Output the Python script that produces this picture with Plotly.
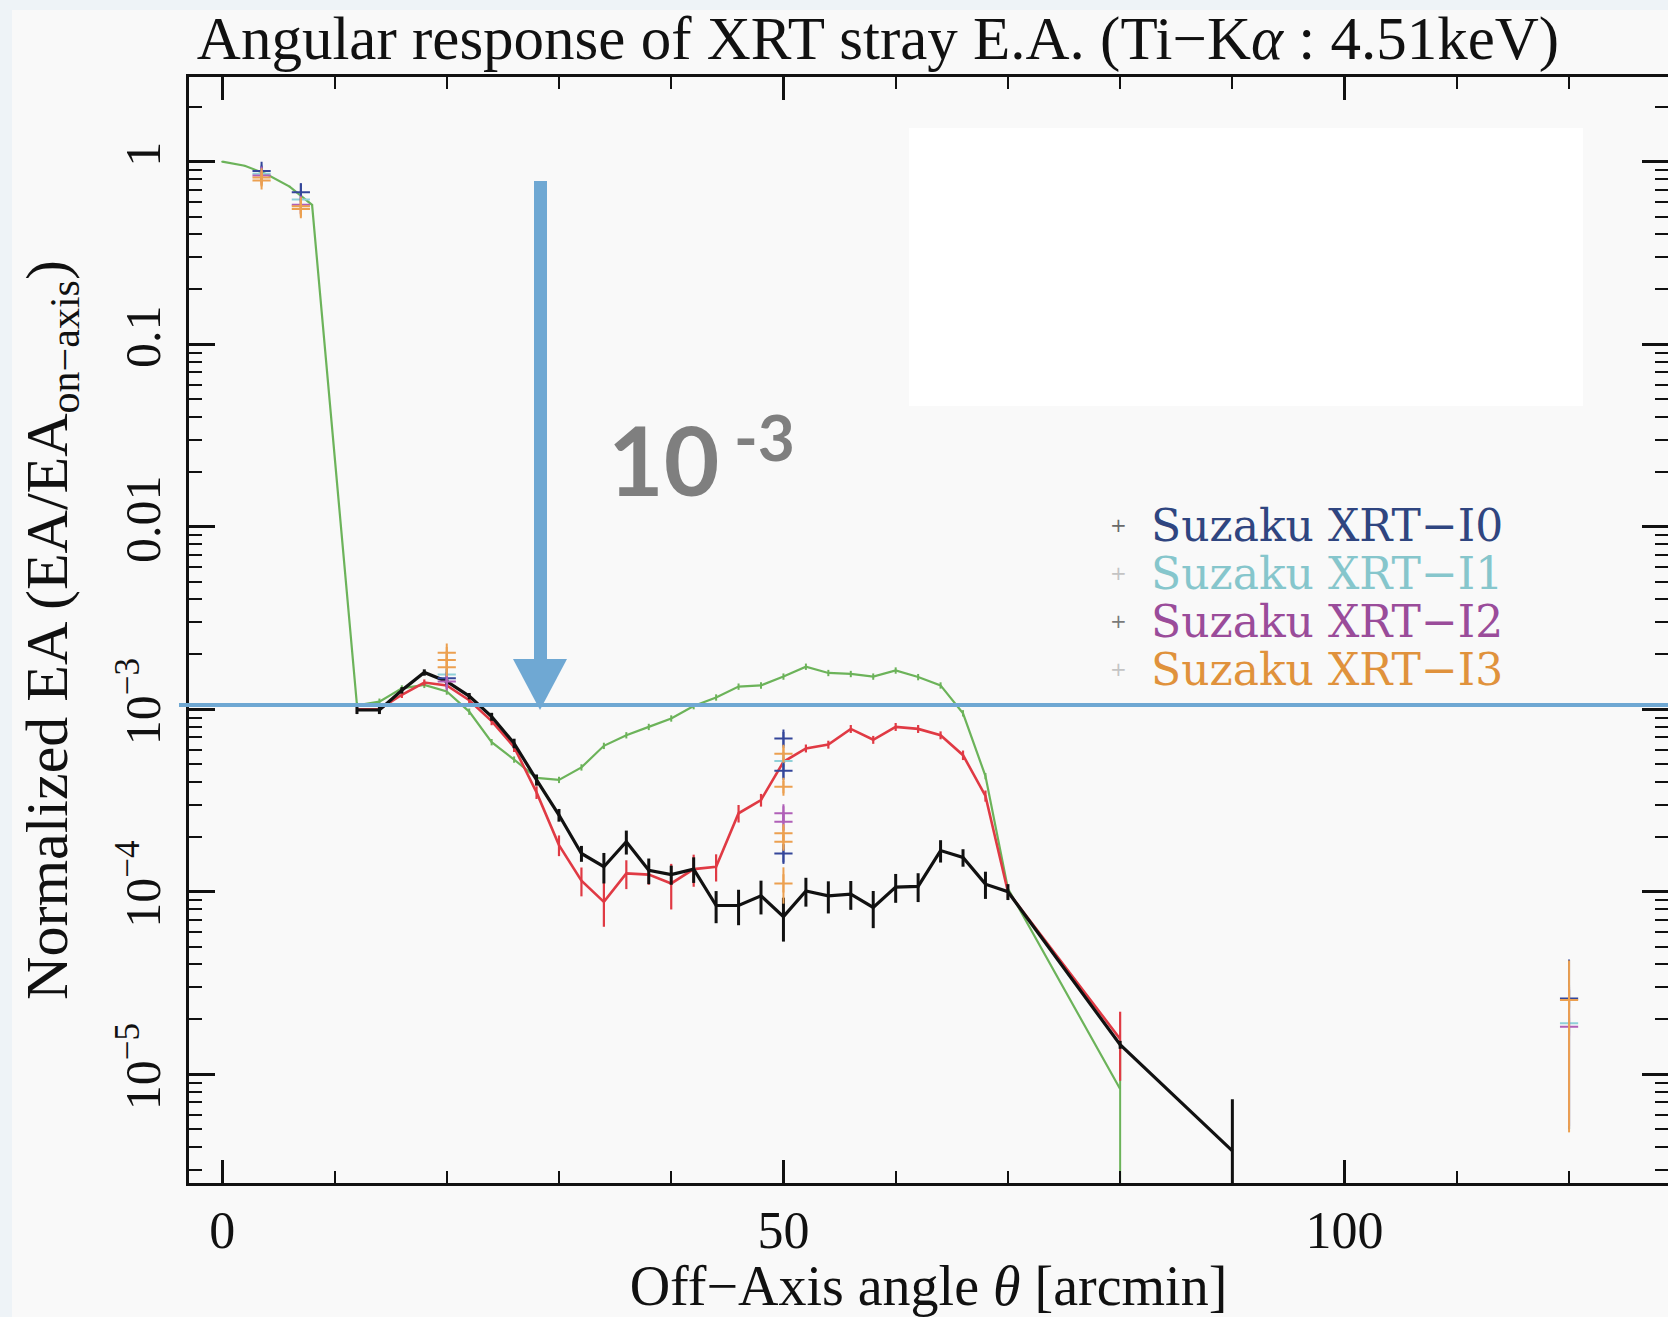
import plotly.graph_objects as go

# ---------------- data ----------------
theta_green = [0, 2, 4, 6, 8,
               12, 14, 16, 18, 20, 22, 24, 26, 28, 30,
               32, 34, 36, 38, 40, 42, 44, 46, 48, 50,
               52, 54, 56, 58, 60, 62, 64, 66, 68, 70,
               80]
green_val = [1.0, 0.95, 0.85, 0.73, 0.58,
             1.05e-3, 1.1e-3, 1.3e-3, 1.36e-3, 1.25e-3, 9.7e-4, 6.6e-4, 5.3e-4, 4.2e-4, 4.1e-4,
             4.8e-4, 6.3e-4, 7.2e-4, 8.0e-4, 8.9e-4, 1.04e-3, 1.16e-3, 1.33e-3, 1.35e-3, 1.51e-3,
             1.71e-3, 1.58e-3, 1.56e-3, 1.51e-3, 1.63e-3, 1.50e-3, 1.35e-3, 9.5e-4, 4.3e-4, 1.04e-4,
             8.3e-6]
green_err_up = [0.01, 0.01, 0.01, 0.01, 0.01,
                0.04, 0.04, 0.04, 0.04, 0.04, 0.04, 0.04, 0.04, 0.04, 0.04,
                0.04, 0.04, 0.04, 0.04, 0.04, 0.04, 0.04, 0.04, 0.04, 0.04,
                0.04, 0.04, 0.04, 0.04, 0.04, 0.04, 0.04, 0.04, 0.04, 0.04,
                0.72]
green_err_dn = [0.01, 0.01, 0.01, 0.01, 0.01,
                0.04, 0.04, 0.04, 0.04, 0.04, 0.04, 0.04, 0.04, 0.04, 0.04,
                0.04, 0.04, 0.04, 0.04, 0.04, 0.04, 0.04, 0.04, 0.04, 0.04,
                0.04, 0.04, 0.04, 0.04, 0.04, 0.04, 0.04, 0.04, 0.04, 0.04,
                1.0]

theta_red = [12, 14, 16, 18, 20, 22, 24, 26, 28, 30,
             32, 34, 36, 38, 40, 42, 44, 46, 48, 50,
             52, 54, 56, 58, 60, 62, 64, 66, 68, 70,
             80]
red_val = [1.0e-3, 1.0e-3, 1.2e-3, 1.4e-3, 1.35e-3, 1.12e-3, 8.6e-4, 6.2e-4, 3.5e-4, 1.8e-4,
           1.15e-4, 8.8e-5, 1.26e-4, 1.24e-4, 1.11e-4, 1.33e-4, 1.37e-4, 2.69e-4, 3.18e-4, 5.15e-4,
           6.1e-4, 6.4e-4, 7.8e-4, 6.8e-4, 8.0e-4, 7.8e-4, 7.2e-4, 5.6e-4, 3.35e-4, 1.0e-4,
           1.56e-5]
red_err = [0.04, 0.04, 0.04, 0.04, 0.04, 0.04, 0.05, 0.06, 0.08, 0.13,
           0.18, 0.27, 0.18, 0.12, 0.28, 0.20, 0.17, 0.11, 0.08, 0.06,
           0.05, 0.05, 0.05, 0.05, 0.05, 0.05, 0.05, 0.06, 0.07, 0.08,
           0.41]

theta_black = [12, 14, 16, 18, 20, 22, 24, 26, 28, 30,
               32, 34, 36, 38, 40, 42, 44, 46, 48, 50,
               52, 54, 56, 58, 60, 62, 64, 66, 68, 70,
               80, 90]
black_val = [9.9e-4, 9.9e-4, 1.27e-3, 1.59e-3, 1.42e-3, 1.18e-3, 9.1e-4, 6.5e-4, 4.1e-4, 2.63e-4,
             1.62e-4, 1.37e-4, 1.88e-4, 1.31e-4, 1.24e-4, 1.33e-4, 8.4e-5, 8.4e-5, 9.5e-5, 7.3e-5,
             1.01e-4, 9.5e-5, 9.7e-5, 8.2e-5, 1.06e-4, 1.07e-4, 1.68e-4, 1.54e-4, 1.10e-4, 1.0e-4,
             1.45e-5, 3.8e-6]
black_err_up = [0.05, 0.05, 0.04, 0.04, 0.04, 0.04, 0.05, 0.06, 0.07, 0.08,
                0.10, 0.19, 0.15, 0.16, 0.12, 0.16, 0.20, 0.22, 0.21, 0.27,
                0.18, 0.20, 0.18, 0.23, 0.18, 0.18, 0.14, 0.11, 0.17, 0.10,
                0.05, 0.92]
black_err_dn = [0.05, 0.05, 0.04, 0.04, 0.04, 0.04, 0.05, 0.06, 0.07, 0.08,
                0.10, 0.19, 0.15, 0.16, 0.12, 0.16, 0.20, 0.22, 0.21, 0.27,
                0.18, 0.20, 0.18, 0.23, 0.18, 0.18, 0.14, 0.11, 0.17, 0.10,
                0.05, 1.0]

# measured points (Suzaku XRT-I0..I3)
i0_theta = [3.5, 7, 20, 50, 50, 50, 120]
i0_val = [0.89, 0.68, 1.48e-3, 6.9e-4, 4.6e-4, 1.62e-4, 2.6e-5]
i0_err_up = [0.06, 0.08, 1.2e-4, 6e-5, 4e-5, 2e-5, 1.65e-5]
i0_err_dn = [0.06, 0.08, 1.2e-4, 6e-5, 4e-5, 2e-5, 2.1e-5]

i1_theta = [3.5, 7, 20, 50, 120]
i1_val = [0.86, 0.62, 1.55e-3, 5.2e-4, 1.9e-5]
i1_err_up = [0.05, 0.06, 1.2e-4, 5e-5, 1.2e-5]
i1_err_dn = [0.05, 0.06, 1.2e-4, 5e-5, 1.4e-5]

i2_theta = [3.5, 7, 20, 50, 50, 120]
i2_val = [0.84, 0.58, 1.42e-3, 2.69e-4, 2.42e-4, 1.82e-5]
i2_err_up = [0.05, 0.06, 1.2e-4, 2.5e-5, 2.5e-5, 1.2e-5]
i2_err_dn = [0.05, 0.06, 1.2e-4, 2.5e-5, 2.5e-5, 1.3e-5]

i3_theta = [3.5, 3.5, 7, 7, 20, 20, 20, 50, 50, 50, 50, 50, 120]
i3_val = [0.82, 0.79, 0.57, 0.55, 2.04e-3, 1.86e-3, 1.70e-3, 5.7e-4, 3.76e-4, 2.09e-4, 1.88e-4, 1.11e-4, 2.55e-5]
i3_err_up = [0.05, 0.05, 0.05, 0.05, 1.5e-4, 1.4e-4, 1.3e-4, 5e-5, 3e-5, 1.8e-5, 1.6e-5, 2.5e-5, 1.65e-5]
i3_err_dn = [0.05, 0.05, 0.05, 0.05, 1.5e-4, 1.4e-4, 1.3e-4, 5e-5, 3e-5, 1.8e-5, 1.6e-5, 2.5e-5, 2.07e-5]

legend_names = ["Suzaku XRT\u2212I0", "Suzaku XRT\u2212I1", "Suzaku XRT\u2212I2", "Suzaku XRT\u2212I3"]
legend_colors = ["#2f4580", "#86c6cc", "#9a4c9a", "#e0923c"]
point_colors = ["#34469a", "#8fd0d8", "#b060b8", "#eca050"]

x_tickvals = [0, 50, 100]
x_ticktext = ["0", "50", "100"]
y_tickvals = [1, 0.1, 0.01, 1e-3, 1e-4, 1e-5]
y_ticktext = ["1", "0.1", "0.01", "10<sup>\u22123</sup>", "10<sup>\u22124</sup>", "10<sup>\u22125</sup>"]

# ---------------- geometry (pixels) ----------------
FW, FH = 1668, 1317
L, R, T, B = 189, 1668, 77, 1183
W, H = R - L, B - T


def px(x):
    return (x - L) / W


def py(y):
    return (B - y) / H


SERIF = "Liberation Serif, Times New Roman, serif"
LEGSERIF = "DejaVu Serif, serif"
BLUE = "#6fa8d3"
XRANGE = [(L - 222.3) / 11.223, (R - 222.3) / 11.223]


def mul(vals, fr):
    return [v * f for v, f in zip(vals, fr)]


fig = go.Figure()

fig.add_trace(go.Scatter(
    x=theta_green, y=green_val, mode="lines", name="green",
    line=dict(color="#6cb35a", width=2.2),
    error_y=dict(type="data", array=mul(green_val, green_err_up),
                 arrayminus=mul(green_val, green_err_dn),
                 color="#6cb35a", thickness=2, width=0),
    showlegend=False))

fig.add_trace(go.Scatter(
    x=theta_red, y=red_val, mode="lines", name="red",
    line=dict(color="#e03a44", width=2.6),
    error_y=dict(type="data", array=mul(red_val, red_err),
                 arrayminus=mul(red_val, red_err),
                 color="#e03a44", thickness=2.2, width=0),
    showlegend=False))

fig.add_trace(go.Scatter(
    x=theta_black, y=black_val, mode="lines", name="black",
    line=dict(color="#111111", width=3.2),
    error_y=dict(type="data", array=mul(black_val, black_err_up),
                 arrayminus=mul(black_val, black_err_dn),
                 color="#111111", thickness=3, width=0),
    showlegend=False))

pts = [(i0_theta, i0_val, i0_err_up, i0_err_dn),
       (i1_theta, i1_val, i1_err_up, i1_err_dn),
       (i2_theta, i2_val, i2_err_up, i2_err_dn),
       (i3_theta, i3_val, i3_err_up, i3_err_dn)]
for k in [1, 0, 2, 3]:
    th, vv, eu, ed = pts[k]
    fig.add_trace(go.Scatter(
        x=th, y=vv, mode="markers", name=legend_names[k],
        marker=dict(symbol="cross-thin", size=13, color=point_colors[k],
                    line=dict(color=point_colors[k], width=2)),
        error_y=dict(type="data", array=eu, arrayminus=ed,
                     color=point_colors[k], thickness=2, width=0),
        showlegend=False))

# invisible helper trace so the top (tick-only) axis is drawn
fig.add_trace(go.Scatter(x=[theta_black[0]], y=[black_val[0]], xaxis="x2", mode="markers",
                         marker=dict(opacity=0), hoverinfo="skip", showlegend=False))

# ---------------- overlays (slide decorations) ----------------
shapes = []
shapes.append(dict(type="rect", xref="paper", yref="paper", x0=px(0), x1=px(FW), y0=py(0), y1=py(10),
                   fillcolor="#eef3f7", line=dict(width=0), layer="below"))
shapes.append(dict(type="rect", xref="paper", yref="paper", x0=px(0), x1=px(12), y0=py(0), y1=py(FH),
                   fillcolor="#eef3f7", line=dict(width=0), layer="below"))
shapes.append(dict(type="rect", xref="paper", yref="paper", x0=px(909), x1=px(1583), y0=py(128), y1=py(406),
                   fillcolor="#ffffff", line=dict(width=0), layer="above"))
shapes.append(dict(type="line", xref="paper", yref="paper", x0=px(179), x1=px(FW), y0=py(705), y1=py(705),
                   line=dict(color=BLUE, width=4), layer="above"))
shapes.append(dict(type="rect", xref="paper", yref="paper", x0=px(534), x1=px(547), y0=py(181), y1=py(662),
                   fillcolor=BLUE, line=dict(width=0), layer="above"))
shapes.append(dict(type="path", xref="paper", yref="paper",
                   path="M %f %f L %f %f L %f %f Z" % (px(513), py(659), px(567), py(659), px(540), py(710)),
                   fillcolor=BLUE, line=dict(width=0), layer="above"))

annotations = []
annotations.append(dict(text="10", xref="paper", yref="paper", x=px(663), y=py(458),
                        xanchor="center", yanchor="middle", showarrow=False,
                        font=dict(family="Lato, Open Sans, sans-serif", size=96, color="#7f7f7f", weight="bold")))
annotations.append(dict(text="-3", xref="paper", yref="paper", x=px(764), y=py(436),
                        xanchor="center", yanchor="middle", showarrow=False,
                        font=dict(family="Lato, Open Sans, sans-serif", size=64, color="#7f7f7f", weight="bold")))

legend_rows = [525, 573, 621, 669]
plus_colors = ["#6a6a6a", "#c4c4c4", "#7a7a7a", "#c4c4c4"]
for name, col, yy, pc in zip(legend_names, legend_colors, legend_rows, plus_colors):
    annotations.append(dict(text=name, xref="paper", yref="paper", x=px(1149), y=py(yy),
                            xanchor="left", yanchor="middle", showarrow=False,
                            font=dict(family=LEGSERIF, size=44, color=col)))
    annotations.append(dict(text="+", xref="paper", yref="paper", x=px(1118), y=py(yy),
                            xanchor="center", yanchor="middle", showarrow=False,
                            font=dict(family="DejaVu Sans, sans-serif", size=20, color=pc)))

fig.update_layout(
    width=FW, height=FH,
    margin=dict(l=L, r=FW - R, t=T, b=FH - B, autoexpand=False),
    paper_bgcolor="#f9f9f9", plot_bgcolor="#f9f9f9",
    title=dict(text="Angular response of XRT stray E.A. (Ti\u2212K<i>\u03b1</i> : 4.51keV)",
               x=px(878), xref="paper", xanchor="center",
               y=1 - 38 / FH, yref="container", yanchor="middle",
               font=dict(family=SERIF, size=61, color="#111111")),
    showlegend=False,
    shapes=shapes, annotations=annotations,
    xaxis=dict(
        range=XRANGE,
        showline=True, linecolor="#111111", linewidth=3, mirror=True,
        ticks="inside", ticklen=23, tickwidth=2.5, tickcolor="#111111",
        tickmode="array", tickvals=x_tickvals, ticktext=x_ticktext,
        minor=dict(ticks="inside", ticklen=12, tickwidth=2, tickcolor="#111111", dtick=10, showgrid=False),
        showgrid=False, zeroline=False,
        tickfont=dict(family=SERIF, size=52, color="#111111"),
        ticklabelstandoff=0,
        title=dict(text="Off\u2212Axis angle <i>\u03b8</i> [arcmin]", standoff=16,
                   font=dict(family=SERIF, size=56, color="#111111")),
    ),
    xaxis2=dict(overlaying="x", side="top", anchor="y", range=XRANGE,
                showline=True, linecolor="#111111", linewidth=3,
                ticks="inside", ticklen=23, tickwidth=2.5, tickcolor="#111111",
                tickmode="array", tickvals=x_tickvals, showticklabels=False,
                minor=dict(ticks="inside", ticklen=12, tickwidth=2, tickcolor="#111111", dtick=10, showgrid=False),
                showgrid=False, zeroline=False),
)

minor_y = [m * 10.0 ** e for e in range(-6, 1) for m in range(2, 10)]
fig.update_yaxes(
    type="log",
    range=[-(B - 161.7) / 182.5, (161.7 - T) / 182.5],
    showline=True, linecolor="#111111", linewidth=3, mirror="ticks",
    ticks="inside", ticklen=26, tickwidth=2.5, tickcolor="#111111",
    tickmode="array", tickvals=y_tickvals, ticktext=y_ticktext, tickangle=-90,
    minor=dict(ticks="inside", ticklen=13, tickwidth=2, tickcolor="#111111",
               tickmode="array", tickvals=minor_y, showgrid=False),
    showgrid=False, zeroline=False,
    tickfont=dict(family=SERIF, size=50, color="#111111"),
    ticklabelstandoff=6,
    title=dict(text="Normalized EA (EA/EA<sub>on\u2212axis</sub>)", standoff=22,
               font=dict(family=SERIF, size=60, color="#111111")),
)

fig.write_html("out.html")
